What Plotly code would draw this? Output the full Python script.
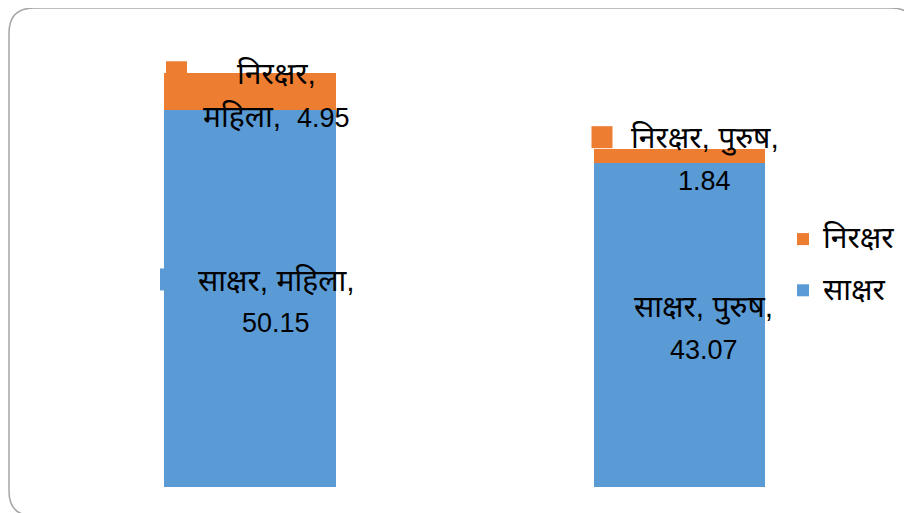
import plotly.graph_objects as go

categories = ["महिला", "पुरुष"]
series_names = ["साक्षर", "निरक्षर"]
literate = [50.15, 43.07]
illiterate = [4.95, 1.84]
colors = ["#5B9BD5", "#ED7D31"]

W, H = 912, 513
FONT = "Liberation Sans, Arial, Noto Sans Devanagari, Lohit Devanagari, Noto Sans, sans-serif"
DEV = 30   # size for Devanagari words
NUM = 27   # size for digits

# pixel geometry (figure coords; page body adds 8px offset)
px_per_x = 429.5
x_center0 = 242.0
px_per_y = 7.52
base_py = 479.0

xr = [-x_center0 / px_per_x, (W - x_center0) / px_per_x]
yr = [-(H - base_py) / px_per_y, base_py / px_per_y]


def dev(s):
    return f"<span style='font-size:{DEV}px'>{s}</span>"


xs = list(range(len(categories)))
fig = go.Figure()
all_vals = [literate, illiterate]
n_series = len(series_names)
for si, (name, vals, col) in enumerate(zip(series_names, all_vals, colors)):
    fig.add_trace(go.Bar(
        x=xs, y=vals, name=dev(name), marker=dict(color=col, line=dict(width=0)),
        width=0.4, legendgroup=name, legendrank=n_series - si, hoverinfo="skip",
    ))

# key offsets (px from bar centre to right edge of label key), per series/category
key_right = [[-69, -62], [-63, -67]]
text_dx = [[26, 24], [26, 25]]

annotations = []
shapes = []
for si, (name, vals, col) in enumerate(zip(series_names, all_vals, colors)):
    for ci, cat in enumerate(categories):
        base = sum(all_vals[k][ci] for k in range(si))
        mid = base + vals[ci] / 2
        num = f"{vals[ci]:.2f}"
        if si == 1 and ci == 0:
            line1 = dev(f"{name},")
            line2 = dev(f"{cat}, ") + f" {num}"
        else:
            line1 = dev(f"{name}, {cat},")
            line2 = num
        for txt, ys in ((line1, 18), (line2, -25)):
            annotations.append(dict(
                x=ci, y=mid, xref="x", yref="y", text=txt, showarrow=False,
                xshift=text_dx[si][ci], yshift=ys, xanchor="center", yanchor="middle",
                font=dict(family=FONT, size=NUM, color="#000000"),
            ))
        kr = key_right[si][ci]
        shapes.append(dict(
            type="rect", xref="x", yref="y", xsizemode="pixel", ysizemode="pixel",
            xanchor=ci, yanchor=mid, x0=kr - 21, x1=kr, y0=8, y1=30,
            fillcolor=col, line=dict(width=0), layer="below",
        ))

# rounded border
L, T, R, B, r = 1, 0, 908, 508, 25


def px(x):
    return x / W


def py(y):
    return 1 - y / H


path = (f"M {px(L+r)},{py(T)} L {px(R-r)},{py(T)} Q {px(R)},{py(T)} {px(R)},{py(T+r)} "
        f"L {px(R)},{py(B-r)} Q {px(R)},{py(B)} {px(R-r)},{py(B)} "
        f"L {px(L+r)},{py(B)} Q {px(L)},{py(B)} {px(L)},{py(B-r)} "
        f"L {px(L)},{py(T+r)} Q {px(L)},{py(T)} {px(L+r)},{py(T)} Z")
shapes.append(dict(type="path", xref="paper", yref="paper", path=path,
                   line=dict(color="#A6A6A6", width=1.5), layer="above"))

fig.update_layout(
    width=W, height=H, barmode="stack",
    margin=dict(l=0, r=0, t=0, b=0, pad=0),
    paper_bgcolor="white", plot_bgcolor="rgba(0,0,0,0)",
    xaxis=dict(range=xr, visible=False, fixedrange=True),
    yaxis=dict(range=yr, visible=False, fixedrange=True),
    legend=dict(x=775 / W, y=1 - 209 / H, xanchor="left", yanchor="top",
                traceorder="grouped", tracegroupgap=17,
                font=dict(family=FONT, size=24, color="#000000"),
                bgcolor="rgba(0,0,0,0)"),
    annotations=annotations, shapes=shapes,
    showlegend=True,
)
fig.write_html("out.html")
